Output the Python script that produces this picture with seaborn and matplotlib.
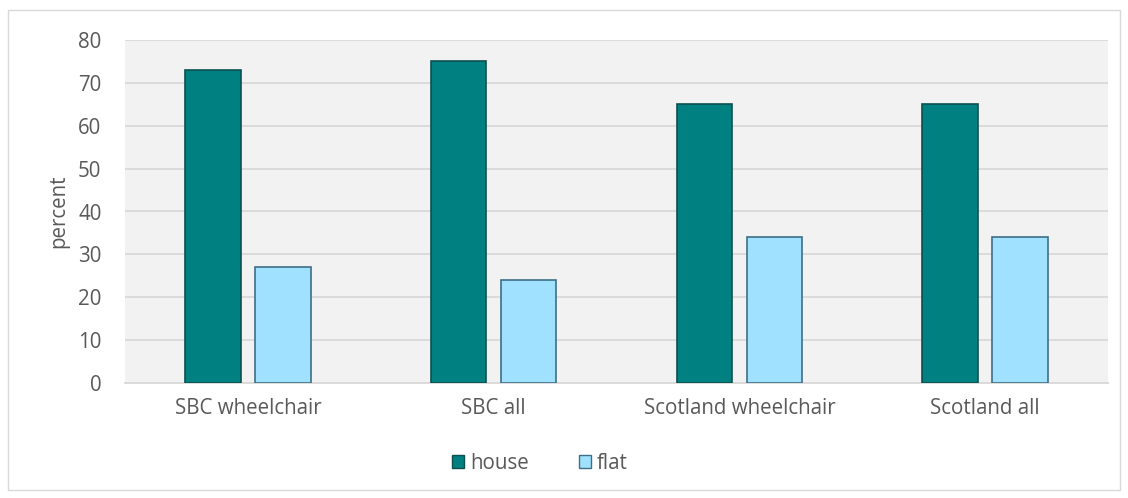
import matplotlib
matplotlib.use("Agg")
import matplotlib.pyplot as plt
import seaborn as sns
import pandas as pd
from matplotlib.patches import Rectangle

categories = ["SBC wheelchair", "SBC all", "Scotland wheelchair", "Scotland all"]
series = ["house", "flat"]
house = [73, 75, 65, 65]
flat = [27, 24, 34, 34]
yticks = [0, 10, 20, 30, 40, 50, 60, 70, 80]

df = pd.DataFrame({
    "category": categories * 2,
    "type": [series[0]] * 4 + [series[1]] * 4,
    "value": house + flat,
})

sns.set_style("white")
plt.rcParams["font.family"] = ["Open Sans", "DejaVu Sans"]
FS = 14.8

fig = plt.figure(figsize=(11.28, 4.98), dpi=100)
ax = fig.add_axes([125 / 1128, 1 - 383 / 498, (1108 - 125) / 1128, (383 - 40) / 498])
ax.set_facecolor("#f2f2f2")

palette = {"house": "#008080", "flat": "#9fe1ff"}
sns.barplot(data=df, x="category", y="value", hue="type", palette=palette,
            width=0.57, gap=0.21, ax=ax, saturation=1, legend=False)

edge = {"house": "#0d4f4f", "flat": "#3f6f86"}
for bars, s in zip(ax.containers, series):
    for p in bars:
        p.set_edgecolor(edge[s])
        p.set_linewidth(1.2)
        p.set_zorder(3)

ax.set_ylim(0, 80)
ax.set_yticks(yticks)
ax.yaxis.grid(True, color="#d9d9d9", linewidth=1.3)
ax.set_axisbelow(True)
for sp in ["top", "right", "left"]:
    ax.spines[sp].set_visible(False)
ax.spines["bottom"].set_color("#d9d9d9")
ax.spines["bottom"].set_linewidth(1.3)
ax.tick_params(axis="both", length=0, labelsize=FS, colors="#595959")
ax.tick_params(axis="y", pad=17)
ax.tick_params(axis="x", pad=11)
ax.set_xlabel("")
ax.set_ylabel("percent", fontsize=FS, color="#595959", labelpad=6)

handles = [Rectangle((0, 0), 1, 1, facecolor=palette[s], edgecolor=edge[s]) for s in series]
fig.legend(handles, series, loc="center", bbox_to_anchor=(540 / 1128, 1 - 463 / 498),
           ncol=2, frameon=False, fontsize=FS, handlelength=0.6, handleheight=0.6,
           handletextpad=0.3, columnspacing=2.4, labelcolor="#595959")

fig.add_artist(Rectangle((8 / 1128, 1 - 490 / 498), 1112 / 1128, 480 / 498,
                         transform=fig.transFigure, fill=False, edgecolor="#d9d9d9", linewidth=1))

fig.savefig("out.png", dpi=100, facecolor="white")
